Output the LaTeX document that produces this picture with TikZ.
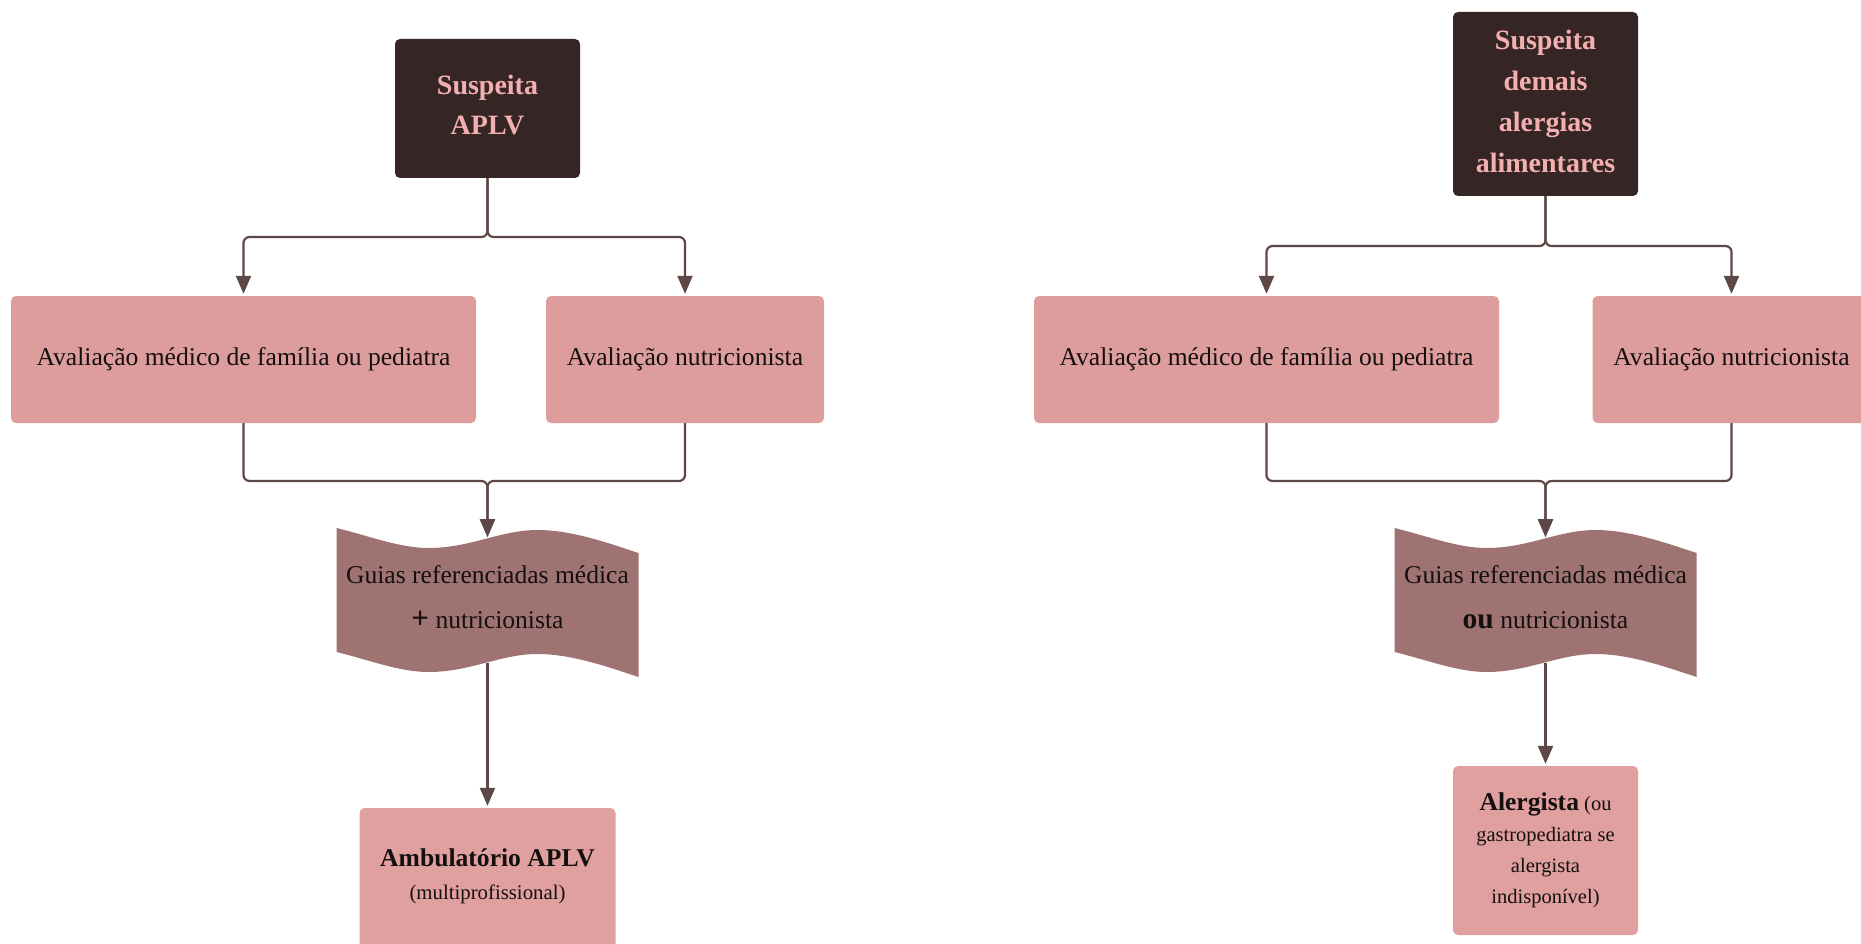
\documentclass[tikz,border=0pt]{standalone}
\usepackage{fontspec}
\setmainfont{Liberation Serif}
\usetikzlibrary{arrows.meta}
\definecolor{darkbox}{HTML}{352525}
\definecolor{pinktxt}{HTML}{F4B0B0}
\definecolor{pinkbox}{HTML}{DE9D9D}
\definecolor{pinkboxb}{HTML}{E0A0A0}
\definecolor{wavecol}{HTML}{A07373}
\definecolor{linecol}{HTML}{5E4747}
\definecolor{txt}{HTML}{141010}
\tikzset{
  darkstyle/.style={fill=darkbox, rounded corners=5pt, text=pinktxt, align=center, inner sep=0pt,
    font=\fontsize{28}{40.7}\selectfont\bfseries},
  pinkstyle/.style={fill=pinkbox, rounded corners=5pt, text=txt, align=center, inner sep=0pt,
    font=\fontsize{25.6}{30}\selectfont},
  plaintext/.style={text=txt, align=center, inner sep=0pt},
  conn/.style={draw=linecol, line width=2.2pt, rounded corners=6pt},
  arr/.style={conn, -{Triangle[length=18pt,width=15pt]}, shorten >=2pt},
}
\newcommand{\flagshape}[1]{%
  \fill[wavecol, shift={(#1,0)}] (-151,528) .. controls (-118,536) and (-88,548) .. (-59,548)
    .. controls (-17,548) and (13,530) .. (50,530)
    .. controls (83,530) and (118,542) .. (151,553)
    -- (151,677) .. controls (118,666) and (83,654) .. (50,654)
    .. controls (13,654) and (-17,672) .. (-59,672)
    .. controls (-88,672) and (-118,660) .. (-151,652) -- cycle;}
\begin{document}
\begin{tikzpicture}[x=1pt,y=-1pt]
\clip (0,0) rectangle (1861,944);
\fill[white] (0,0) rectangle (1861,944);

% ---------------- left column ----------------
\node[darkstyle, minimum width=185pt, minimum height=139pt] (s1) at (487.5,108.5)
  {Suspeita\\APLV\rule[-7.5pt]{0pt}{7.5pt}};
\node[pinkstyle, minimum width=465pt, minimum height=127pt] (m1) at (243.5,359.5)
  {Avaliação médico de família ou pediatra};
\node[pinkstyle, minimum width=278pt, minimum height=127pt] (n1) at (685,359.5)
  {Avaliação nutricionista};
\flagshape{487.5}
\node[plaintext, font=\fontsize{25.6}{45}\selectfont] (g1) at (487.5,597)
  {Guias referenciadas médica\\{\bfseries\fontsize{31}{45}\selectfont +} nutricionista};
\coordinate (g1t) at (487.5,539);
\coordinate (g1b) at (487.5,663);
\node[fill=pinkboxb, rounded corners=5pt, minimum width=256pt, minimum height=170pt, inner sep=0pt] (a1) at (487.5,893) {};
\node[plaintext, font=\fontsize{20.8}{33}\selectfont] (a1t) at (487.5,876)
  {{\bfseries\fontsize{25.6}{33}\selectfont Ambulatório APLV}\\(multiprofissional)};
\coordinate (j1) at (487.5,237);
\coordinate (k1) at (487.5,481);

\draw[arr] (s1.south) -- (j1) -| (m1.north);
\draw[arr] (s1.south) -- (j1) -| (n1.north);
\draw[arr] (m1.south) |- (k1) -- (g1t);
\draw[arr] (n1.south) |- (k1) -- (g1t);
\draw[arr] (g1b) -- (a1.north);

% ---------------- right column ----------------
\node[darkstyle, minimum width=185pt, minimum height=184pt] (s2) at (1545.5,104)
  {Suspeita\\demais\\alergias\\alimentares\rule[-5.5pt]{0pt}{5.5pt}};
\node[pinkstyle, minimum width=465pt, minimum height=127pt] (m2) at (1266.5,359.5)
  {Avaliação médico de família ou pediatra};
\node[pinkstyle, minimum width=278pt, minimum height=127pt] (n2) at (1731.5,359.5)
  {Avaliação nutricionista};
\flagshape{1545.5}
\node[plaintext, font=\fontsize{25.6}{45}\selectfont] (g2) at (1545.5,597)
  {Guias referenciadas médica\\{\bfseries\fontsize{29.5}{45}\selectfont ou} nutricionista};
\coordinate (g2t) at (1545.5,539);
\coordinate (g2b) at (1545.5,663);
\node[fill=pinkboxb, rounded corners=5pt, minimum width=185pt, minimum height=169pt, inner sep=0pt,
  text=txt, align=center, font=\fontsize{20.5}{31}\selectfont] (a2) at (1545.5,850.5)
  {{\bfseries\fontsize{25.6}{31}\selectfont Alergista} (ou\\gastropediatra se\\alergista\\indisponível)};
\coordinate (j2) at (1545.5,246);
\coordinate (k2) at (1545.5,481);

\draw[arr] (s2.south) -- (j2) -| (m2.north);
\draw[arr] (s2.south) -- (j2) -| (n2.north);
\draw[arr] (m2.south) |- (k2) -- (g2t);
\draw[arr] (n2.south) |- (k2) -- (g2t);
\draw[arr] (g2b) -- (a2.north);
\end{tikzpicture}
\end{document}
